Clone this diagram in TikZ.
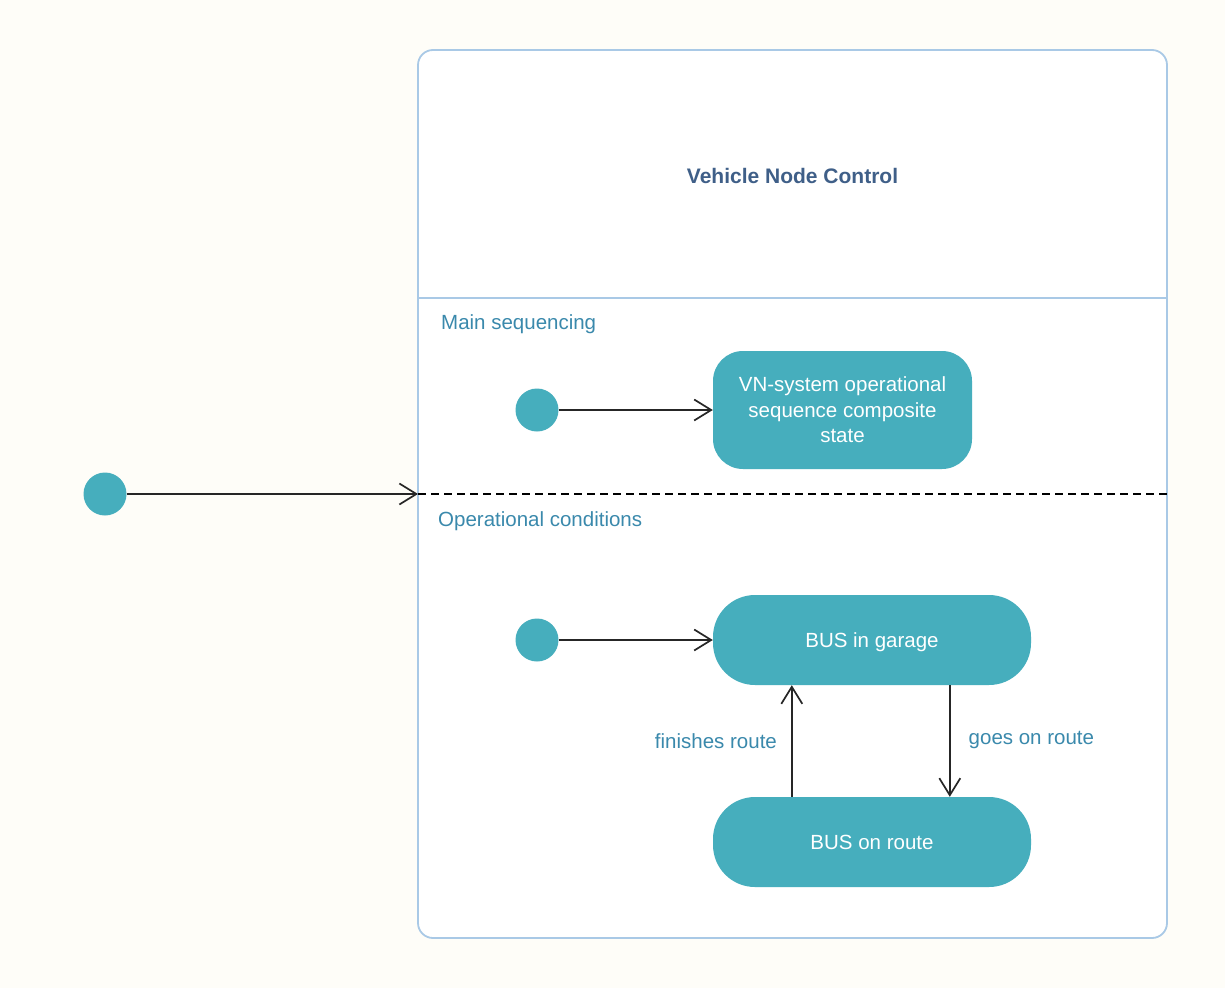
\documentclass[tikz,border=0pt]{standalone}
\usepackage{fontspec}
\setmainfont{Liberation Sans}
\usetikzlibrary{arrows.meta}

\definecolor{bgcol}{HTML}{FEFDF8}
\definecolor{framecol}{HTML}{A9C9E6}
\definecolor{statefill}{HTML}{46AEBD}
\definecolor{titlecol}{HTML}{3F5F88}
\definecolor{labelcol}{HTML}{3A89AC}

\tikzset{
  x=1pt, y=-1pt,
  every node/.style={font=\fontsize{20.5}{25.5}\selectfont},
  initdot/.style={circle, fill=statefill, draw=none, minimum size=43, inner sep=0},
  statebox/.style={fill=statefill, draw=none, text=white, inner sep=0, align=center},
  trans/.style={draw=black!85, line width=1.8pt,
    -{Straight Barb[length=17pt, width=21pt, line width=1.7pt]}},
  regionlabel/.style={text=labelcol, anchor=west, inner sep=0},
  translabel/.style={text=labelcol, inner sep=0},
}

\begin{document}
\begin{tikzpicture}
  % page background
  \fill[bgcol] (0,0) rectangle (1225,988);
  \useasboundingbox (0,0) rectangle (1225,988);

  % composite state frame with its header
  \draw[framecol, line width=1.8pt, fill=white, rounded corners=15] (418,50) rectangle (1167,938);
  \draw[framecol, line width=1.8pt] (418,298) -- (1167,298);
  \node[text=titlecol, font=\fontsize{21}{25}\selectfont\bfseries] (title) at (792.5,176) {Vehicle Node Control};

  % region separator
  \coordinate (sepL) at (418,494);
  \coordinate (sepR) at (1167,494);
  \draw[black, line width=1.8pt, dash pattern=on 8pt off 5pt] (sepL) -- (sepR);

  % region titles
  \node[regionlabel] (reg1) at (441,324) {Main sequencing};
  \node[regionlabel] (reg2) at (438,521) {Operational conditions};

  % outer initial pseudo state
  \node[initdot] (init0) at (105,494) {};
  \draw[trans] (init0) -- (sepL);

  % main sequencing region
  \node[initdot] (init1) at (537,410) {};
  \node[statebox, rounded corners=30, minimum width=259, minimum height=118] (vn) at (842.5,410)
    {VN-system operational\\sequence composite\\state};
  \draw[trans] (init1) -- (vn);

  % operational conditions region
  \node[initdot] (init2) at (537,640) {};
  \node[statebox, text depth=0pt, rounded corners=42, minimum width=318, minimum height=90] (garage) at (872,640) {BUS in garage};
  \node[statebox, text depth=0pt, rounded corners=42, minimum width=318, minimum height=90] (route) at (872,842) {BUS on route};
  \draw[trans] (init2) -- (garage);

  \draw[trans] (route.south west |- route.north) ++(79,0) coordinate (finA)
    -- (finA |- garage.south) node[pos=0.5, translabel, anchor=east, xshift=-14] (finlbl) {finishes route};
  \draw[trans] (garage.south west |- garage.south) ++(237,0) coordinate (goA)
    -- (goA |- route.north) node[pos=0.5, translabel, anchor=west, xshift=18, yshift=1] (golbl) {goes on route};
\end{tikzpicture}
\end{document}
